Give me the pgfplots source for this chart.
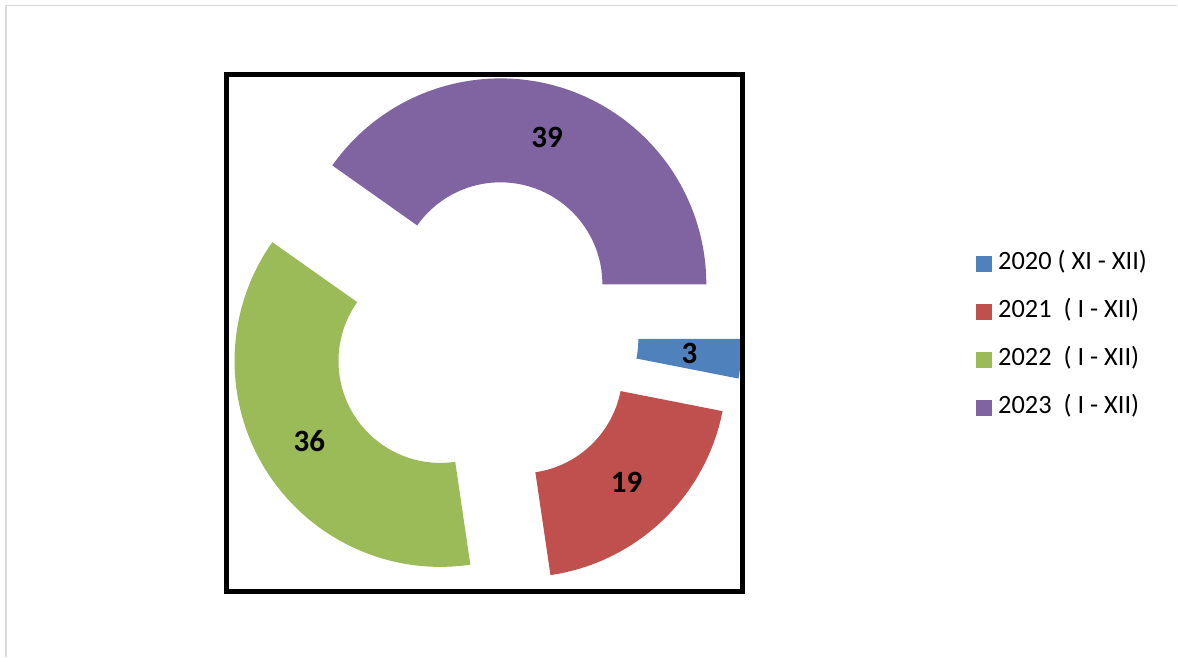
\documentclass[border=0pt]{standalone}
\usepackage{fontspec}
\setmainfont{Carlito}
\usepackage{pgfplots}
\pgfplotsset{compat=1.18}
\definecolor{c1}{HTML}{4F81BD}
\definecolor{c2}{HTML}{C0504D}
\definecolor{c3}{HTML}{9BBB59}
\definecolor{c4}{HTML}{8064A2}
\definecolor{frame}{HTML}{D9D9D9}
% geometry in pixel units (1 px = 0.5 pt)
\def\tot{97}
\def\cx{485}\def\cy{323}\def\ex{52}
\def\Rout{206}\def\Rin{102}
\tikzset{lbl/.style={font=\fontsize{15.5pt}{18pt}\selectfont\bfseries, text=black}}
\newcommand\slice[3]{% #1 value, #2 cumulative before, #3 colour
  \pgfmathsetmacro\aA{-(#2)/\tot*360}%
  \pgfmathsetmacro\aB{-(#2+#1)/\tot*360}%
  \pgfmathsetmacro\aM{(\aA+\aB)/2}%
  \pgfmathsetmacro\ox{\cx+\ex*cos(\aM)}%
  \pgfmathsetmacro\oy{\cy+\ex*sin(\aM)}%
  \pgfmathsetmacro\xA{\ox+\Rout*cos(\aA)}%
  \pgfmathsetmacro\yA{\oy+\Rout*sin(\aA)}%
  \pgfmathsetmacro\xB{\ox+\Rin*cos(\aB)}%
  \pgfmathsetmacro\yB{\oy+\Rin*sin(\aB)}%
  \pgfmathsetmacro\xL{\ox+(\Rout+\Rin)/2*cos(\aM)}%
  \pgfmathsetmacro\yL{\oy+(\Rout+\Rin)/2*sin(\aM)}%
  \pgfmathsetmacro\RoPt{\Rout*0.5}%
  \pgfmathsetmacro\RiPt{\Rin*0.5}%
  \edef\temp{\noexpand\fill[#3] (axis cs:\xA,\yA) arc[start angle=\aA, end angle=\aB, radius=\RoPt pt] -- (axis cs:\xB,\yB) arc[start angle=\aB, end angle=\aA, radius=\RiPt pt] -- cycle;
  \noexpand\node[lbl] at (axis cs:\xL,\yL) {#1};}%
  \temp}
\pgfplotsset{sq/.style={legend image code/.code={\fill[#1] (0pt,-3.75pt) rectangle (7.5pt,3.75pt);}}}
\begin{document}
\begin{tikzpicture}
\begin{axis}[
  x=0.5pt, y=0.5pt,
  xmin=0, xmax=1178, ymin=0, ymax=657,
  hide axis, clip=false,
  legend cell align=left,
  legend style={at={(axis cs:977,405)}, anchor=north west, draw=none, fill=none,
    inner sep=0pt, outer sep=0pt,
    font=\fontsize{13.2pt}{15pt}\selectfont,
    nodes={inner sep=0pt, text height=9pt, text depth=3pt},
    row sep=12pt, column sep=3pt},
]
\path (axis cs:0,0) rectangle (axis cs:1178,657);
\draw[frame, line width=0.75pt] (axis cs:6,0) -- (axis cs:6,651.5) -- (axis cs:1178,651.5);
\slice{3}{0}{c1}
\slice{19}{3}{c2}
\slice{36}{22}{c3}
\slice{39}{58}{c4}
\draw[black, line width=2.5pt] (axis cs:226.5,65.5) rectangle (axis cs:743,582.5);
\addlegendimage{sq=c1}\addlegendentry{2020 ( XI - XII)}
\addlegendimage{sq=c2}\addlegendentry{2021\ \ ( I - XII)}
\addlegendimage{sq=c3}\addlegendentry{2022\ \ ( I - XII)}
\addlegendimage{sq=c4}\addlegendentry{2023\ \ ( I - XII)}
\end{axis}
\end{tikzpicture}
\end{document}
